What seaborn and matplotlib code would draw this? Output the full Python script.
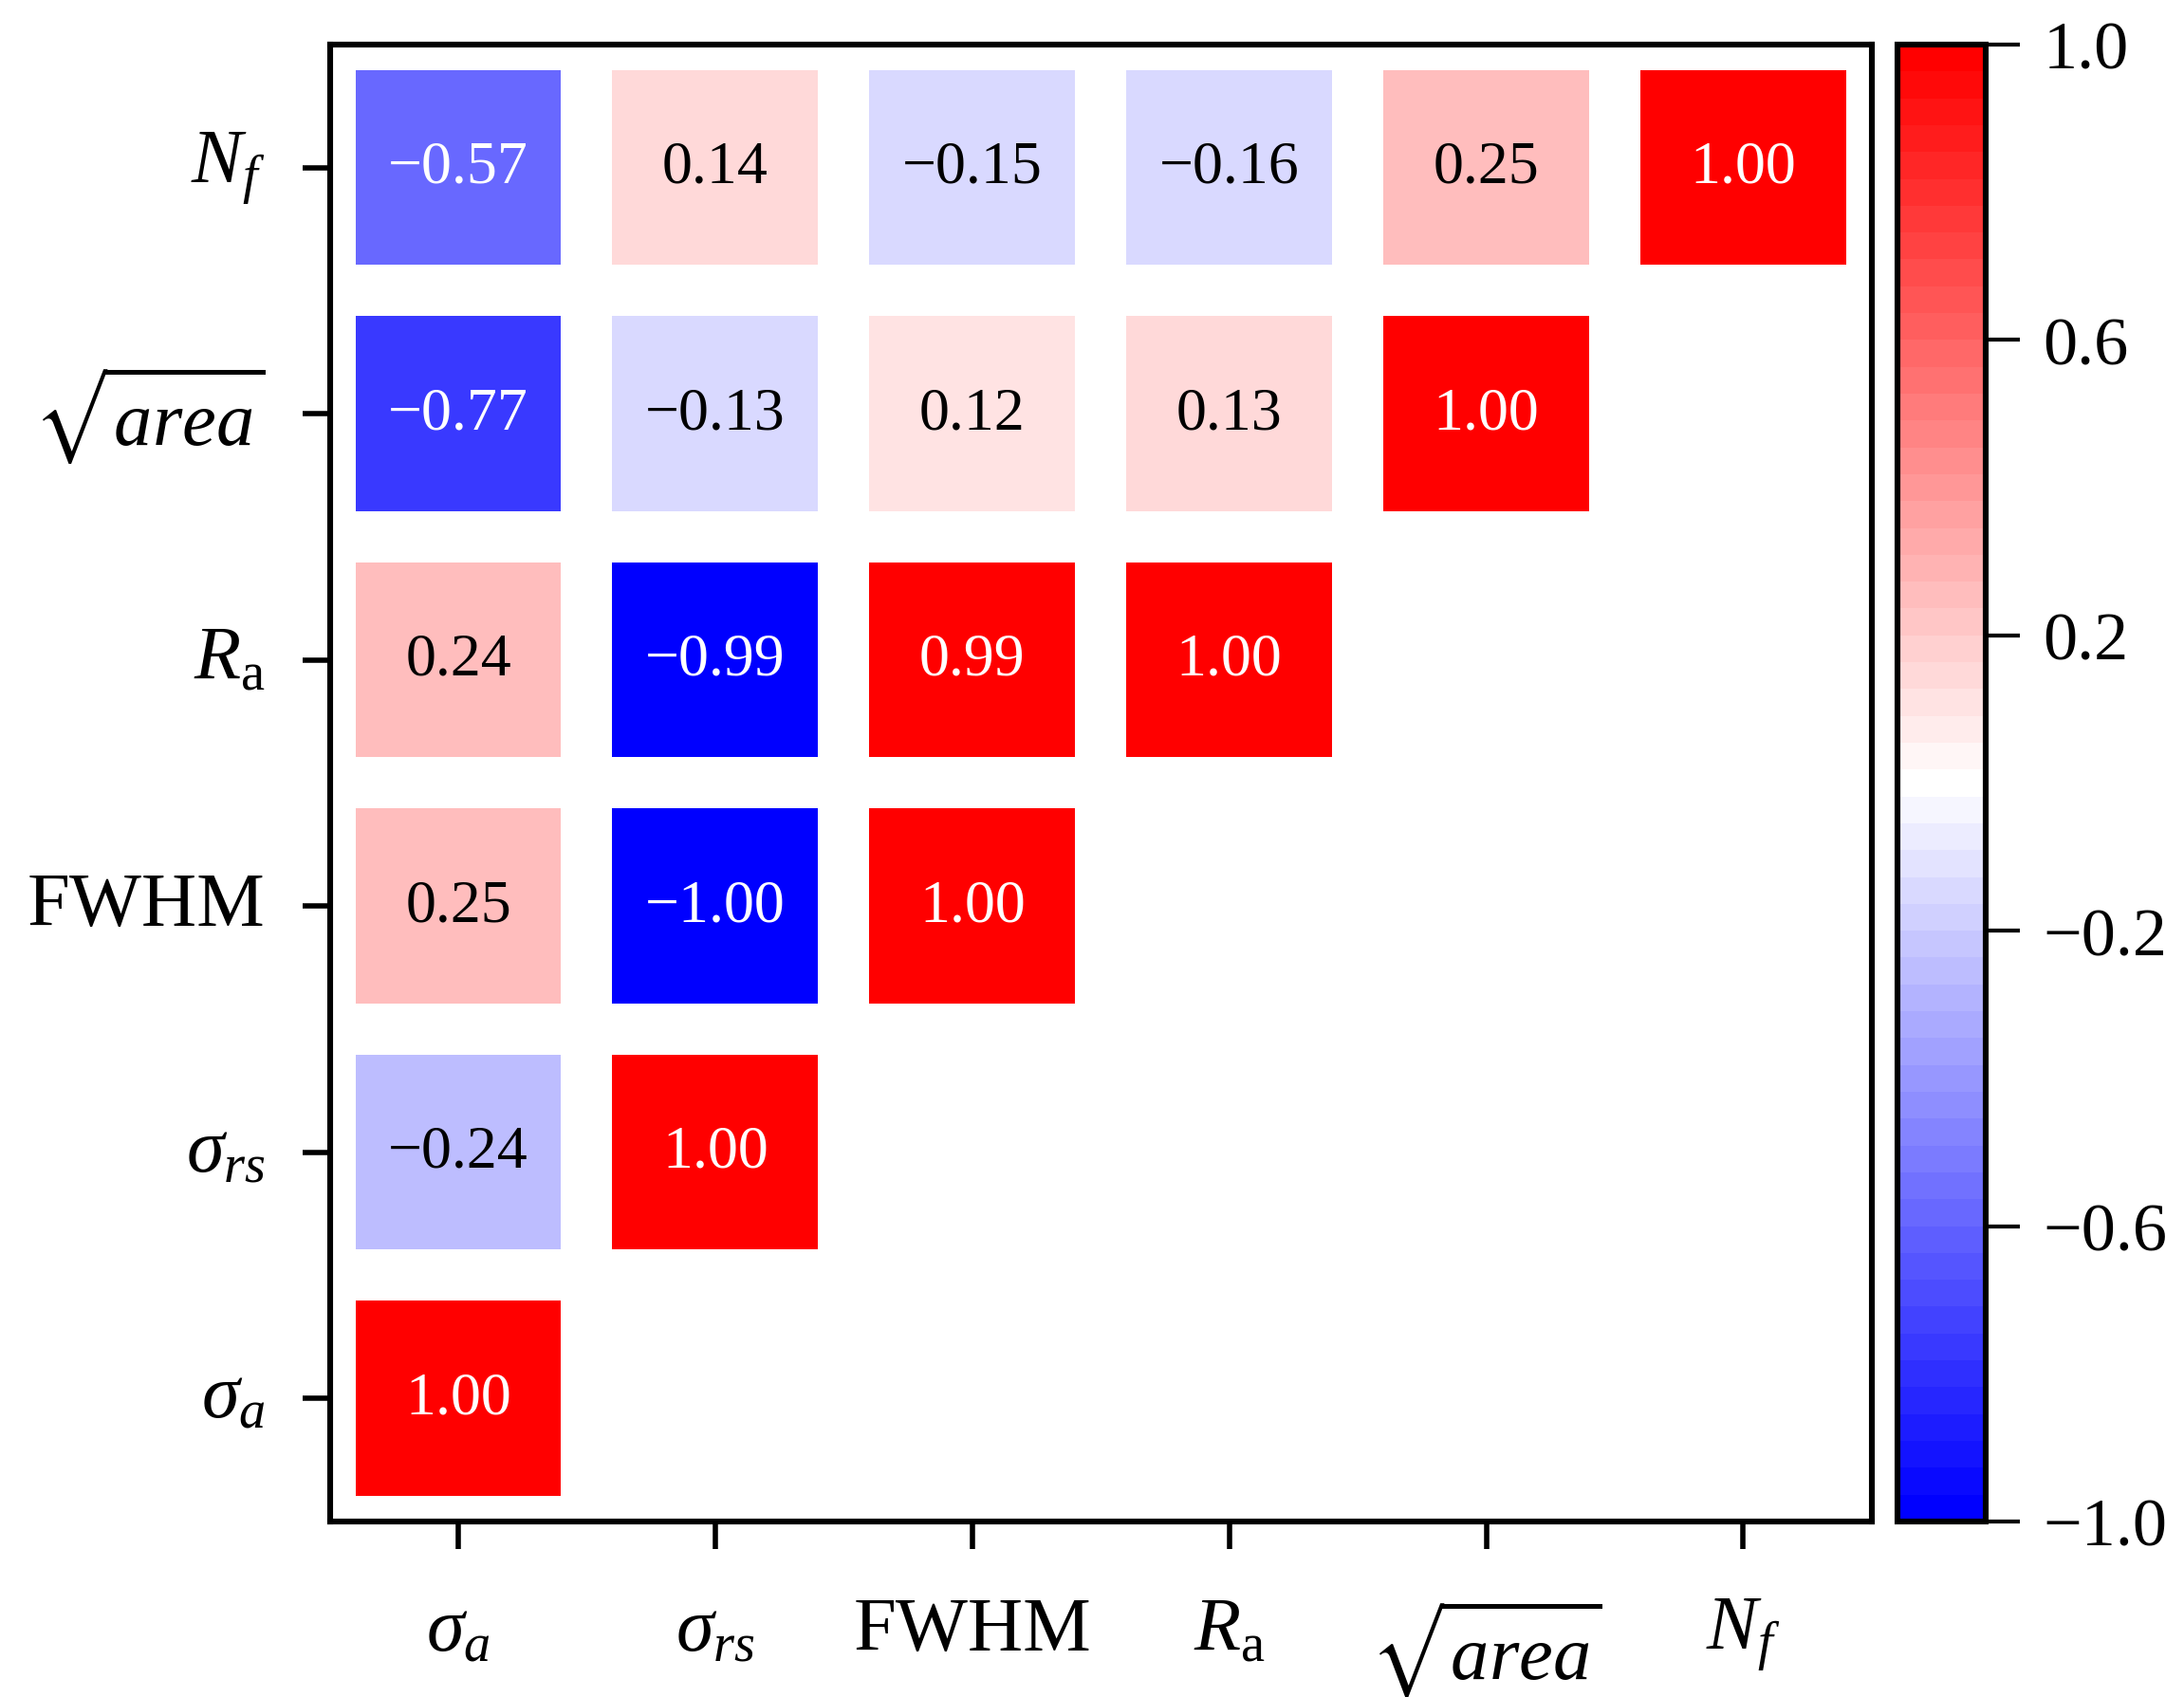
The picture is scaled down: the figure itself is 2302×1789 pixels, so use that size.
import numpy as np
import matplotlib
matplotlib.use("Agg")
import matplotlib.pyplot as plt
import pandas as pd
import seaborn as sns

# variable order (bottom -> top on y, left -> right on x)
labels = [
    r"$\sigma_a$",
    r"$\sigma_{rs}$",
    "FWHM",
    r"$R_\mathrm{a}$",
    r"$\sqrt{area}$",
    r"$N_f$",
]

# lower-triangular correlation values, row by row
row_sigma_a = [1.00]
row_sigma_rs = [-0.24, 1.00]
row_fwhm = [0.25, -1.00, 1.00]
row_ra = [0.24, -0.99, 0.99, 1.00]
row_area = [-0.77, -0.13, 0.12, 0.13, 1.00]
row_nf = [-0.57, 0.14, -0.15, -0.16, 0.25, 1.00]

cbar_ticks = [-1.0, -0.6, -0.2, 0.2, 0.6, 1.0]

rows = [row_sigma_a, row_sigma_rs, row_fwhm, row_ra, row_area, row_nf]
n = len(labels)
corr = np.full((n, n), np.nan)
for i, r in enumerate(rows):
    corr[i, : len(r)] = r
df = pd.DataFrame(corr, index=labels, columns=labels)
mask = np.triu(np.ones((n, n), dtype=bool), k=1)
annot = np.array(
    [[("" if np.isnan(v) else f"{v:.2f}".replace("-", "\u2212")) for v in r] for r in corr]
)

sns.set_style("ticks")
plt.rcParams["font.family"] = "serif"
plt.rcParams["font.serif"] = ["Liberation Serif", "DejaVu Serif"]
plt.rcParams["mathtext.fontset"] = "custom"
plt.rcParams["mathtext.rm"] = "Liberation Serif"
plt.rcParams["mathtext.it"] = "Liberation Serif:italic"
plt.rcParams["mathtext.bf"] = "Liberation Serif:bold"
plt.rcParams["mathtext.fallback"] = "stix"
for k in ["text.color", "axes.labelcolor", "xtick.color", "ytick.color"]:
    plt.rcParams[k] = "black"

fig = plt.figure(figsize=(11.51, 8.95), dpi=200)
ax = fig.add_axes([0.151, 0.1034, 0.706, 0.8698])
cax = fig.add_axes([0.869, 0.1034, 0.040, 0.8698])

cmap = plt.get_cmap("bwr", 55)
sns.heatmap(
    df,
    mask=mask,
    cmap=cmap,
    vmin=-1,
    vmax=1,
    annot=annot,
    fmt="",
    annot_kws={"fontsize": 23},
    linewidths=19.3,
    linecolor="white",
    cbar_ax=cax,
    cbar_kws={"ticks": cbar_ticks},
    ax=ax,
)
ax.invert_yaxis()

# seaborn uses dark grey for text on light cells; reference uses pure black
for t in ax.texts:
    if t.get_color() != "w":
        t.set_color("black")

for s in ax.spines.values():
    s.set_visible(True)
    s.set_linewidth(2.2)
    s.set_color("black")

ax.tick_params(axis="both", length=10.5, width=2, color="black", labelsize=29)
ax.tick_params(axis="y", pad=14, rotation=0)
ax.tick_params(axis="x", pad=18, rotation=0)

cbar = ax.collections[0].colorbar
cbar.outline.set_visible(True)
cbar.outline.set_linewidth(2.2)
cbar.outline.set_edgecolor("black")
cbar.ax.tick_params(length=13, width=1.5, pad=9, labelsize=26, color="black")
cbar.ax.set_yticklabels([f"{v:.1f}".replace("-", "\u2212") for v in cbar_ticks])

fig.savefig("out.png", dpi=200)
